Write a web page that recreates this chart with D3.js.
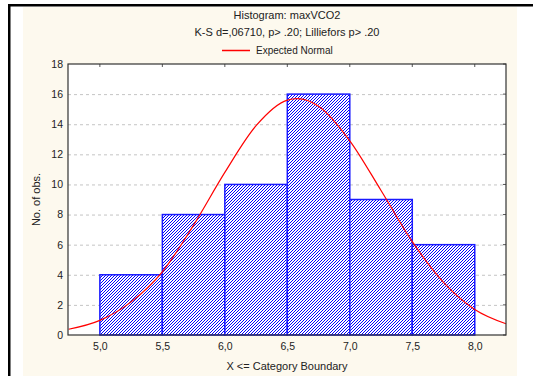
<!DOCTYPE html>
<html>
<head>
<meta charset="utf-8">
<script src="https://cdn.jsdelivr.net/npm/d3@7"></script>
<style>
  html, body { margin: 0; padding: 0; background: #fff; }
  svg { display: block; font-family: "Liberation Sans", Arial, sans-serif; }
</style>
</head>
<body>
<svg id="chart"></svg>
<script>
// Histogram bins (upper boundaries) and counts
const binEdges = [5.0, 5.5, 6.0, 6.5, 7.0, 7.5, 8.0];
const counts = [4, 8, 10, 16, 9, 6];

// Expected normal curve
const curveX = [4.75, 5.0, 5.25, 5.5, 5.75, 6.0, 6.25, 6.5, 6.58, 6.75, 7.0, 7.25, 7.5, 7.75, 8.0, 8.25];
const curveY = [0.38, 0.97, 2.2, 4.2, 7.3, 10.8, 13.9, 15.6, 15.7, 15.2, 12.9, 9.6, 6.2, 3.5, 1.7, 0.75];

const xTicks = [5.0, 5.5, 6.0, 6.5, 7.0, 7.5, 8.0];
const yTicks = [0, 2, 4, 6, 8, 10, 12, 14, 16, 18];

const W = 538, H = 376;
const plot = { left: 68, right: 506, top: 64, bottom: 335 };

const svg = d3.select('#chart').attr('width', W).attr('height', H);

// Hatch pattern for the bars
const defs = svg.append('defs');
const pat = defs.append('pattern')
    .attr('id', 'hatch')
    .attr('patternUnits', 'userSpaceOnUse')
    .attr('width', 3).attr('height', 3);
pat.append('rect').attr('width', 3).attr('height', 3).attr('fill', '#fff');
[[2, 0], [1, 1], [0, 2]].forEach(([px, py]) => {
    pat.append('rect').attr('x', px).attr('y', py)
        .attr('width', 1).attr('height', 1).attr('fill', '#0000ff');
});

// Cream panel + black frame lines
svg.append('rect')
    .attr('x', 23).attr('y', 7).attr('width', 494).attr('height', H - 7)
    .attr('fill', '#fdf9ee');
svg.append('rect').attr('x', 8).attr('y', 4).attr('width', 525).attr('height', 2.5).attr('fill', '#000');
svg.append('rect').attr('x', 8).attr('y', 4).attr('width', 2.5).attr('height', H - 4).attr('fill', '#000');

const x = d3.scaleLinear().domain([4.745, 8.25]).range([plot.left, plot.right]);
const y = d3.scaleLinear().domain([0, 18]).range([plot.bottom, plot.top]);

// Plot background
svg.append('rect')
    .attr('x', plot.left).attr('y', plot.top)
    .attr('width', plot.right - plot.left).attr('height', plot.bottom - plot.top)
    .attr('fill', '#fff');

// Grid lines
svg.append('g')
    .selectAll('line')
    .data(yTicks.filter(d => d > 0 && d < 18))
    .join('line')
    .attr('x1', plot.left).attr('x2', plot.right)
    .attr('y1', d => y(d) + 0.5).attr('y2', d => y(d) + 0.5)
    .attr('stroke', '#c4c4c4')
    .attr('stroke-dasharray', '3,3');

// Bars
const bins = counts.map((c, i) => ({ x0: binEdges[i], x1: binEdges[i + 1], count: c }));
svg.append('g')
    .selectAll('rect')
    .data(bins)
    .join('rect')
    .attr('x', d => x(d.x0))
    .attr('y', d => y(d.count))
    .attr('width', d => x(d.x1) - x(d.x0))
    .attr('height', d => y(0) - y(d.count))
    .attr('fill', 'url(#hatch)')
    .attr('stroke', '#1a1aff')
    .attr('stroke-width', 1.5);

// Expected normal curve
const pts = curveX.map((v, i) => [v, curveY[i]]);
svg.append('path')
    .datum(pts)
    .attr('fill', 'none')
    .attr('stroke', '#ff0000')
    .attr('stroke-width', 1.2)
    .attr('d', d3.line().x(d => x(d[0])).y(d => y(d[1])).curve(d3.curveMonotoneX));

// Axes (tick labels only, frame drawn below)
const axisG = svg.append('g');
axisG.append('g')
    .attr('transform', `translate(0,${plot.bottom})`)
    .call(d3.axisBottom(x).tickValues(xTicks).tickSize(0).tickPadding(8)
        .tickFormat(d => d3.format('.1f')(d).replace('.', ',')));
axisG.append('g')
    .attr('transform', `translate(${plot.left},0)`)
    .call(d3.axisLeft(y).tickValues(yTicks).tickSize(0).tickPadding(5));
axisG.selectAll('.domain').remove();
axisG.selectAll('text').attr('font-size', 10.5).attr('fill', '#222')
    .attr('font-family', '"Liberation Sans", Arial, sans-serif');

// Inward tick marks on the top and right
svg.append('g').selectAll('line').data(xTicks).join('line')
    .attr('x1', d => x(d)).attr('x2', d => x(d))
    .attr('y1', plot.top).attr('y2', plot.top + 3)
    .attr('stroke', '#555');
svg.append('g').selectAll('line').data(yTicks).join('line')
    .attr('x1', plot.right - 3).attr('x2', plot.right)
    .attr('y1', d => y(d)).attr('y2', d => y(d))
    .attr('stroke', '#555');

// Frame
svg.append('rect')
    .attr('x', plot.left).attr('y', plot.top)
    .attr('width', plot.right - plot.left).attr('height', plot.bottom - plot.top)
    .attr('fill', 'none').attr('stroke', '#333').attr('stroke-width', 1.2);

// Titles
const cx = (plot.left + plot.right) / 2;
svg.append('text').attr('x', cx).attr('y', 19).attr('text-anchor', 'middle')
    .attr('font-size', 11).attr('fill', '#222').text('Histogram: maxVCO2');
svg.append('text').attr('x', cx).attr('y', 36).attr('text-anchor', 'middle')
    .attr('font-size', 11).attr('fill', '#222')
    .text('K-S d=,06710, p> .20; Lilliefors p> .20');

// Legend
svg.append('line').attr('x1', 222).attr('x2', 250).attr('y1', 50.5).attr('y2', 50.5)
    .attr('stroke', '#ff0000').attr('stroke-width', 1.5);
svg.append('text').attr('x', 256).attr('y', 54)
    .attr('font-size', 10).attr('fill', '#222').text('Expected Normal');

// Axis titles
svg.append('text').attr('x', cx).attr('y', 370).attr('text-anchor', 'middle')
    .attr('font-size', 11).attr('fill', '#222').text('X <= Category Boundary');
svg.append('text')
    .attr('transform', `translate(40,${(plot.top + plot.bottom) / 2}) rotate(-90)`)
    .attr('text-anchor', 'middle')
    .attr('font-size', 11).attr('fill', '#222').text('No. of obs.');
</script>
</body>
</html>
